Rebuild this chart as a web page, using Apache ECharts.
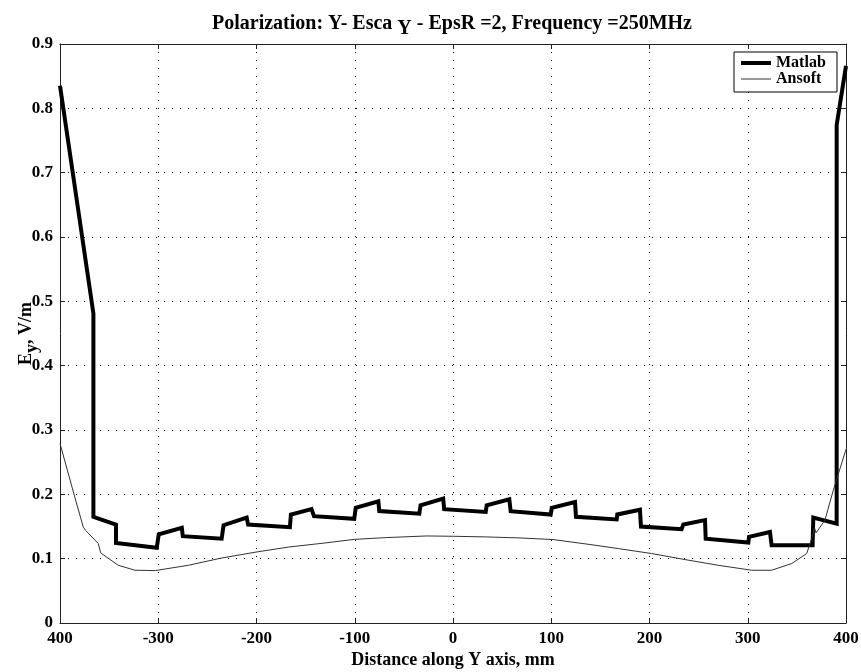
<!DOCTYPE html>
<html>
<head>
<meta charset="utf-8">
<script src="https://cdn.jsdelivr.net/npm/echarts@6/dist/echarts.min.js"></script>
<style>html,body{margin:0;padding:0;background:#fff;}#c{width:861px;height:672px;}</style>
</head>
<body>
<div id="c"></div>
<script>
const matlabX = [-400, -366, -366, -343, -343, -301.5, -299.5, -276, -275, -235.5, -233.5, -210, -208.5, -166, -165, -144, -141.5, -100.5, -99, -76, -75, -34.3, -33, -10, -9, 33.3, 34.3, 57.3, 58.7, 99.4, 100.5, 124.2, 125.2, 166.6, 167.2, 190.3, 191.3, 232.7, 234.4, 256.5, 257.2, 300.6, 301.3, 322.6, 324.3, 366, 366.7, 390.5, 390.5, 400];
const matlabY = [0.835, 0.481, 0.165, 0.153, 0.1245, 0.117, 0.138, 0.148, 0.135, 0.131, 0.152, 0.164, 0.153, 0.149, 0.1686, 0.177, 0.166, 0.162, 0.179, 0.189, 0.174, 0.170, 0.183, 0.1935, 0.177, 0.1727, 0.183, 0.1924, 0.1737, 0.1686, 0.179, 0.188, 0.165, 0.161, 0.1686, 0.176, 0.150, 0.1457, 0.153, 0.160, 0.131, 0.125, 0.134, 0.1415, 0.121, 0.121, 0.164, 0.1545, 0.774, 0.866];
const ansoftX = [-400, -385, -376.3, -374, -361, -358.6, -340.7, -323.7, -303, -269.4, -235.5, -201.5, -167.6, -130.3, -100.5, -67.5, -26.8, 0.3, 34.3, 68.2, 102, 139.4, 168.2, 202, 236.1, 270, 304, 324.3, 344.7, 360, 365, 368, 369.5, 378.6, 387, 400];
const ansoftY = [0.279, 0.196, 0.149, 0.144, 0.1235, 0.109, 0.0897, 0.082, 0.0815, 0.0897, 0.101, 0.110, 0.118, 0.1244, 0.130, 0.1328, 0.1353, 0.1348, 0.1338, 0.1322, 0.1297, 0.122, 0.1157, 0.108, 0.0986, 0.0897, 0.082, 0.082, 0.0924, 0.108, 0.131, 0.148, 0.140, 0.160, 0.206, 0.27];
const seriesNames = ['Matlab', 'Ansoft'];
const xMin = -400, xMax = 400, xStep = 100;
const yMin = 0, yMax = 0.9, yStep = 0.1;
const titleText = 'Polarization: Y- Esca {sub|Y} - EpsR =2, Frequency =250MHz';
const xName = 'Distance along Y axis, mm';
const yName = 'E{sub|y}, V/m';

const FONT = '"Liberation Serif", "Times New Roman", serif';
const zip = (xs, ys) => xs.map((x, i) => [x, ys[i]]);

const chart = echarts.init(document.getElementById('c'), null, {renderer: 'canvas'});
const dotted = {show: true, lineStyle: {color: '#000', type: [1, 7], width: 1}};
const axisLineStyle = {show: true, onZero: false, lineStyle: {color: '#222', width: 1}};
const tick = {show: true, inside: true, length: 5, lineStyle: {color: '#222'}};
const lblStyle = {fontFamily: FONT, fontWeight: 'bold', fontSize: 17, color: '#000'};

chart.setOption({
  animation: false,
  backgroundColor: '#fff',
  title: {
    text: titleText,
    left: 447, textAlign: 'center', top: 3,
    textStyle: {
      fontFamily: FONT, fontWeight: 'bold', fontSize: 20, color: '#000',
      rich: {sub: {fontFamily: FONT, fontWeight: 'bold', fontSize: 20, color: '#000', padding: [11, 0, 0, 0]}}
    }
  },
  grid: {left: 60, right: 15, top: 44, bottom: 49, show: false, containLabel: false, outerBoundsMode: 'none'},
  legend: [
    {data: [{name: seriesNames[0], icon: 'rect'}], left: 741, top: 55, padding: 0, itemWidth: 30, itemHeight: 4, z: 12,
     textStyle: {fontFamily: FONT, fontWeight: 'bold', fontSize: 16, color: '#000', lineHeight: 16}},
    {data: [{name: seriesNames[1], icon: 'rect'}], left: 741, top: 71, padding: 0, itemWidth: 30, itemHeight: 1, z: 12,
     textStyle: {fontFamily: FONT, fontWeight: 'bold', fontSize: 16, color: '#000', lineHeight: 16}}
  ],
  graphic: [{type: 'rect', z: 10, shape: {x: 734, y: 52, width: 103, height: 40}, style: {fill: '#fff', stroke: '#000', lineWidth: 1}}],
  xAxis: [
    {type: 'value', position: 'bottom', min: xMin, max: xMax, interval: xStep,
     axisLine: axisLineStyle, axisTick: tick, splitLine: dotted,
     axisLabel: Object.assign({margin: 7, formatter: v => (v === xMin ? String(Math.abs(v)) : String(v))}, lblStyle),
     name: xName, nameLocation: 'middle', nameGap: 28, nameMoveOverlap: false,
     nameTextStyle: {fontFamily: FONT, fontWeight: 'bold', fontSize: 18, color: '#000'}},
    {type: 'value', position: 'top', min: xMin, max: xMax, interval: xStep,
     axisLine: axisLineStyle, axisTick: tick, splitLine: {show: false}, axisLabel: {show: false}}
  ],
  yAxis: [
    {type: 'value', position: 'left', min: yMin, max: yMax, interval: yStep,
     axisLine: axisLineStyle, axisTick: tick, splitLine: dotted,
     axisLabel: Object.assign({margin: 7, formatter: v => (v === 0 ? '0' : v.toFixed(1))}, lblStyle),
     name: yName, nameLocation: 'middle', nameRotate: 90, nameGap: 19, nameMoveOverlap: false,
     nameTextStyle: {fontFamily: FONT, fontWeight: 'bold', fontSize: 18, color: '#000',
       rich: {sub: {fontFamily: FONT, fontWeight: 'bold', fontSize: 18, color: '#000', padding: [11, 0, 0, 0]}}}},
    {type: 'value', position: 'right', min: yMin, max: yMax, interval: yStep,
     axisLine: axisLineStyle, axisTick: tick, splitLine: {show: false}, axisLabel: {show: false}}
  ],
  series: [
    {name: seriesNames[0], type: 'line', data: zip(matlabX, matlabY), showSymbol: false, symbol: 'none',
     lineStyle: {color: '#000', width: 4, join: 'miter'}, itemStyle: {color: '#000'}, z: 3},
    {name: seriesNames[1], type: 'line', data: zip(ansoftX, ansoftY), showSymbol: false, symbol: 'none',
     lineStyle: {color: '#333', width: 1}, itemStyle: {color: '#333'}, z: 4}
  ]
});
</script>
</body>
</html>
